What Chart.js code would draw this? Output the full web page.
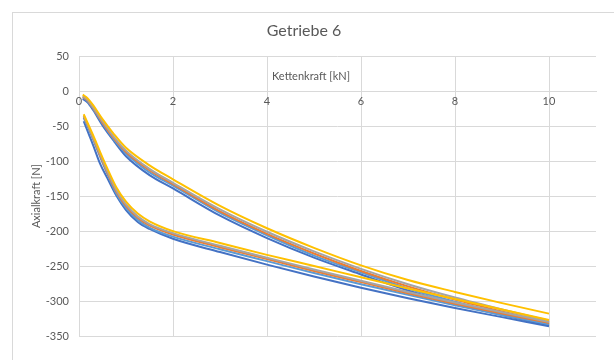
<!DOCTYPE html>
<html>
<head>
<meta charset="utf-8">
<script src="https://cdn.jsdelivr.net/npm/chart.js@4"></script>
<style>
  body { margin: 0; background: #fff; }
  #rahmen { position: absolute; left: 12px; top: 12px; width: 640px; height: 400px; border: 1px solid #d9d9d9; }
  canvas { position: absolute; left: 0; top: 0; }
</style>
</head>
<body>
<div id="rahmen"></div>
<canvas id="grafik" width="614" height="360"></canvas>
<script>
// Kettenkraft [kN]
const xOben = [0.08, 0.18, 0.3, 0.5, 0.75, 1, 1.5, 2, 3, 4, 5, 6, 7, 8, 9, 10];
const xUnten = [0.1, 0.2, 0.3, 0.45, 0.6, 0.8, 1, 1.25, 1.5, 2, 3, 4, 5, 6, 7, 8, 9, 10];

// Axialkraft [N] - obere Kurvenschar
const gelbOben = [-5, -10, -20, -40, -62, -81, -106, -126, -164, -196, -224, -249, -270, -287, -303, -318];
const grauOben = [-7, -12, -23, -43, -66, -85, -111, -131, -169, -201, -229, -254, -276, -295, -312, -328];
const orangeOben = [-8, -13, -24, -45, -68, -87, -113, -133, -172, -204, -232, -257, -279, -298, -315, -331];
const hellblauOben = [-9, -14, -25, -46, -70, -89, -116, -135, -174, -206, -235, -259, -282, -301, -318, -333];
const blauOben = [-11, -16, -27, -49, -72, -93, -120, -139, -178, -210, -238, -262, -285, -304, -320, -335];

// Axialkraft [N] - untere Kurvenschar
const gelbUnten = [-33, -48, -63, -87, -110, -138, -158, -175, -186, -200, -217, -234, -250, -266, -282, -297, -312, -327];
const grauUnten = [-35, -50, -66, -90, -114, -142, -162, -179, -190, -203, -221, -238, -255, -271, -287, -302, -316, -330];
const orangeUnten = [-36, -51, -67, -92, -116, -144, -164, -181, -192, -205, -223, -240, -257, -273, -289, -304, -318, -331];
const hellblauUnten = [-38, -53, -69, -94, -118, -147, -167, -184, -195, -208, -226, -243, -260, -276, -291, -306, -320, -333];
const blauUnten = [-43, -60, -77, -104, -124, -150, -170, -187, -197, -211, -230, -248, -265, -281, -296, -310, -323, -336];

const xTicks = [0, 2, 4, 6, 8, 10];
const schrift = "Lato, 'Open Sans', sans-serif";
const textFarbe = '#595959';

function punkte(xs, ys) {
  let p = [];
  for (let i = 0; i < xs.length; i++) {
    p.push({ x: xs[i], y: ys[i] });
  }
  return p;
}

function serie(name, xs, ys, farbe) {
  return {
    label: name,
    data: punkte(xs, ys),
    borderColor: farbe,
    backgroundColor: farbe,
    borderWidth: 2,
    pointRadius: 0,
    cubicInterpolationMode: 'monotone',
    fill: false
  };
}

// Achsentitel oben über der x-Achse (wie im Excel-Diagramm)
const xTitelPlugin = {
  id: 'xTitel',
  afterDraw(chart) {
    const ctx = chart.ctx;
    const y = chart.scales.y.getPixelForValue(21);
    ctx.save();
    ctx.font = '11px ' + schrift;
    ctx.fillStyle = textFarbe;
    ctx.textAlign = 'center';
    ctx.textBaseline = 'middle';
    ctx.fillText('Kettenkraft [kN]', 311, y);
    ctx.restore();
  }
};

const config = {
  type: 'line',
  data: {
    datasets: [
      serie('Gelb oben', xOben, gelbOben, '#FFC000'),
      serie('Gelb unten', xUnten, gelbUnten, '#FFC000'),
      serie('Grau oben', xOben, grauOben, '#A5A5A5'),
      serie('Grau unten', xUnten, grauUnten, '#A5A5A5'),
      serie('Orange oben', xOben, orangeOben, '#ED7D31'),
      serie('Orange unten', xUnten, orangeUnten, '#ED7D31'),
      serie('Hellblau oben', xOben, hellblauOben, '#5B9BD5'),
      serie('Hellblau unten', xUnten, hellblauUnten, '#5B9BD5'),
      serie('Blau oben', xOben, blauOben, '#4472C4'),
      serie('Blau unten', xUnten, blauUnten, '#4472C4')
    ]
  },
  options: {
    responsive: false,
    animation: false,
    layout: { padding: { left: 12, right: 18, top: 12, bottom: 24 } },
    plugins: {
      legend: { display: false },
      tooltip: { enabled: false },
      title: {
        display: true,
        text: 'Getriebe 6',
        color: textFarbe,
        font: { family: schrift, size: 16, weight: 'normal' },
        padding: { top: 9, bottom: 16 }
      }
    },
    scales: {
      x: {
        type: 'linear',
        position: { y: 0 },
        min: 0,
        max: 11,
        afterBuildTicks: function (scale) {
          scale.ticks = xTicks.map(v => ({ value: v }));
        },
        ticks: {
          color: textFarbe,
          font: { family: schrift, size: 11 },
          padding: 4,
          maxRotation: 0
        },
        grid: { color: '#d9d9d9', drawTicks: false },
        border: { color: '#d9d9d9' }
      },
      y: {
        min: -350,
        max: 50,
        ticks: {
          stepSize: 50,
          color: textFarbe,
          font: { family: schrift, size: 11 },
          padding: 10
        },
        afterFit: function (scale) {
          scale.width = 67;
        },
        grid: { color: '#d9d9d9', drawTicks: false },
        border: { display: false },
        title: {
          display: true,
          text: 'Axialkraft [N]',
          color: textFarbe,
          font: { family: schrift, size: 11 },
          padding: { top: 18, bottom: 0 }
        }
      }
    }
  },
  plugins: [xTitelPlugin]
};

let myChart = new Chart(document.getElementById('grafik'), config);
</script>
</body>
</html>
